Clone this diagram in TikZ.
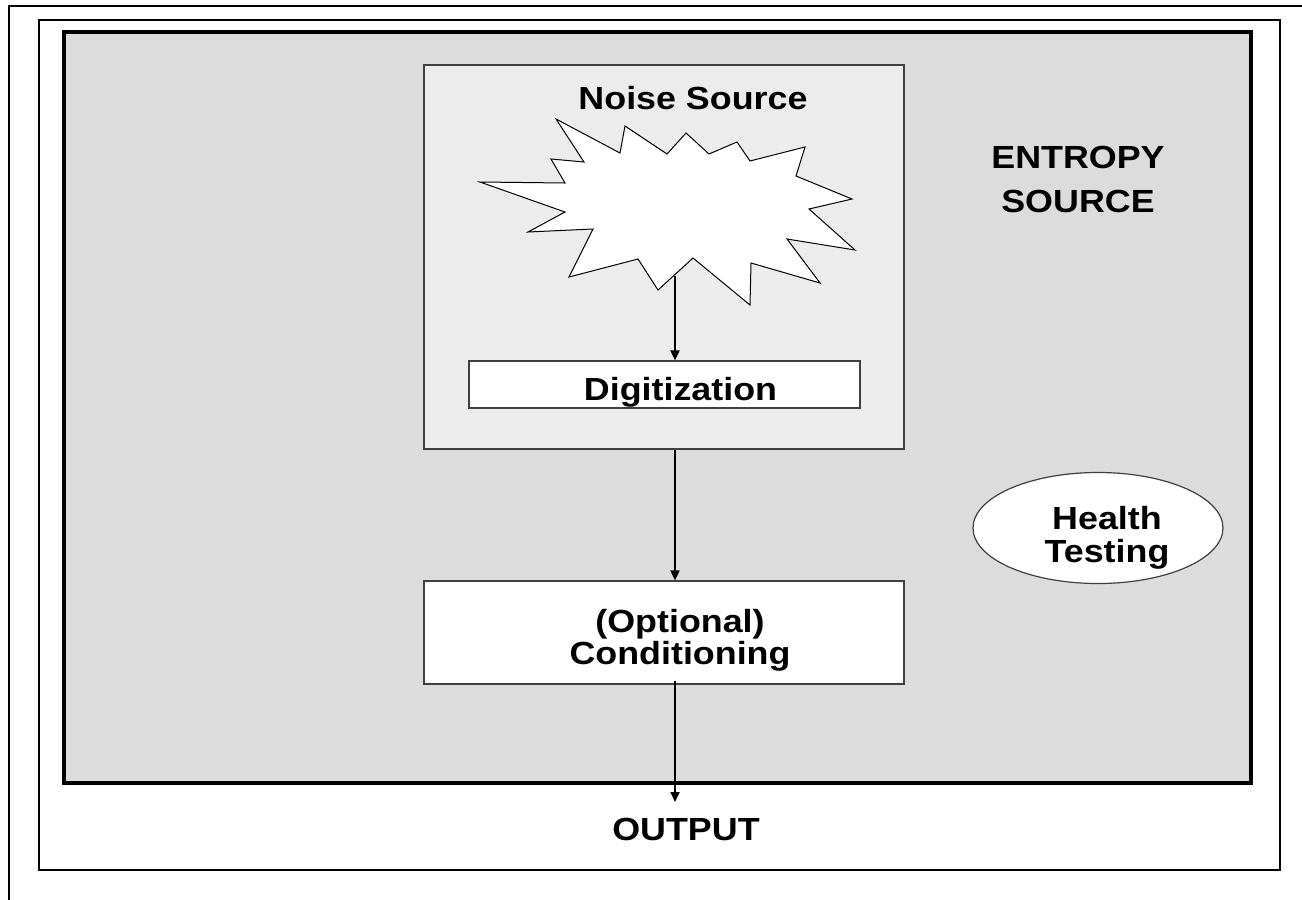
\documentclass[tikz,border=0pt]{standalone}
\usepackage{fontspec}
\setmainfont{Liberation Sans}[FakeStretch=1.12]
\usetikzlibrary{arrows.meta,shapes.geometric}

\definecolor{sourcegray}{HTML}{DCDCDC}
\definecolor{noisegray}{HTML}{ECECEC}

\tikzset{
  box/.style={draw=black!75, line width=0.6pt, fill=white, inner sep=0pt},
  txt/.style={font=\bfseries\fontsize{16}{16}\selectfont, inner sep=0pt},
  flow/.style={line width=0.9pt, -{Triangle[length=5pt,width=4.5pt]}},
}

\begin{document}
\begin{tikzpicture}[x=0.5pt, y=-0.5pt]
    \useasboundingbox (0,0) rectangle (1302,900);
    % page frame
    \draw [line width=1pt] (9,900) -- (9,6) -- (1302,6);
    \draw [line width=1pt] (39,20) rectangle (1280,870);
    % entropy source
    \draw [line width=1.7pt, fill=sourcegray] (64,32) rectangle (1251,783);
    \node [txt, align=center, font=\bfseries\fontsize{16}{22}\selectfont, anchor=base] (entropy) at (1078,212) {ENTROPY\\SOURCE};
    % noise source
    \node [box, fill=noisegray, minimum width=240pt, minimum height=192pt] (noise) at (664,257) {};
    \node [txt, anchor=base] (noiselbl) at (693,109) {Noise Source};
    \filldraw [fill=white, draw=black, line width=0.5pt]
      (556,119) -- (584,162) -- (551,159) -- (565,183) -- (480,182) -- (565,212)
      -- (528,232) -- (593,229) -- (569,277) -- (638,259) -- (658,290) -- (693,258)
      -- (750,305) -- (751,263) -- (820,283) -- (787,239) -- (855,250) -- (809,209)
      -- (852,199) -- (796,176) -- (805,147) -- (750,161) -- (737,142) -- (709,154)
      -- (686,133) -- (667,154) -- (625,126) -- (620,153) -- cycle;
    \coordinate (burst) at (675,276);
    % digitization
    \node [box, minimum width=195.5pt, minimum height=23.5pt] (digit) at (664.5,384.5) {};
    \node [txt, anchor=base] (digitlbl) at (680.5,400) {Digitization};
    % conditioning
    \node [box, minimum width=240pt, minimum height=51.5pt] (cond) at (664,632.5) {};
    \node [txt, align=center, font=\bfseries\fontsize{16}{13.5}\selectfont, anchor=base] (condlbl) at (680,664) {(Optional)\\Conditioning};
    % health testing
    \node [box, ellipse, minimum width=125pt, minimum height=55.5pt] (health) at (1098,528) {};
    \node [txt, align=center, font=\bfseries\fontsize{16}{16.5}\selectfont, anchor=base] (healthlbl) at (1107,562) {Health\\Testing};
    % output
    \node [txt, anchor=base] (out) at (686,840) {OUTPUT};
    % flow
    \draw [flow] (burst) -- (burst |- digit.north);
    \draw [flow] ([xshift=5.5pt]noise.south) -- ([xshift=5.5pt]cond.north);
    \draw [flow] ([xshift=5.5pt,yshift=2pt]cond.south) -- ([xshift=5.5pt]cond.south |- 0,802);
\end{tikzpicture}
\end{document}
